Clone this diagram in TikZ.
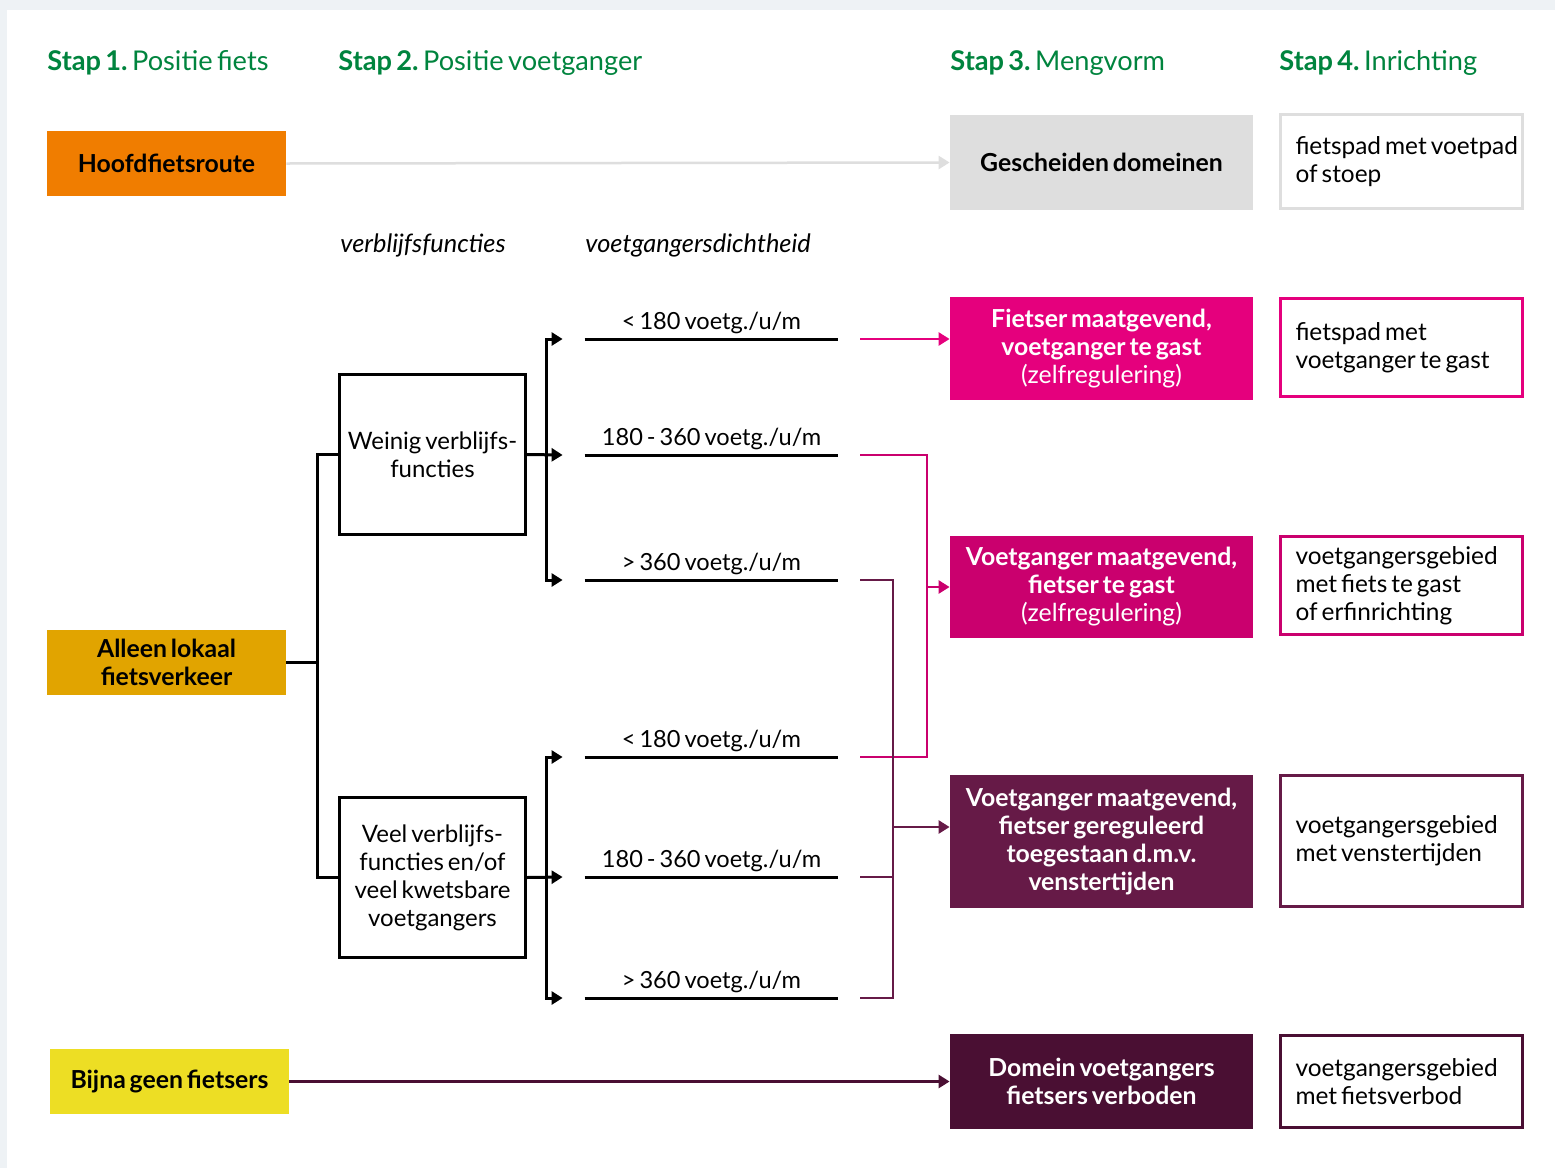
\documentclass[tikz,border=0pt]{standalone}
\usepackage{fontspec}
\setmainfont{Lato}[WordSpace=0.65]
\usetikzlibrary{arrows.meta}
\usetikzlibrary{positioning}
\frenchspacing
\definecolor{achtergrond}{RGB}{238,242,245}
\definecolor{stapgroen}{RGB}{0,132,62}
\definecolor{hfroranje}{RGB}{240,125,0}
\definecolor{lokaalgoud}{RGB}{225,164,0}
\definecolor{bijnageel}{RGB}{237,222,36}
\definecolor{lichtgrijs}{RGB}{222,222,222}
\definecolor{roze}{RGB}{229,0,125}
\definecolor{magenta}{RGB}{202,0,110}
\definecolor{paars}{RGB}{102,26,71}
\definecolor{donkerpaars}{RGB}{74,15,51}
\tikzset{
  kop/.style={anchor=base west,inner sep=0pt,text=stapgroen,font=\fontsize{13.6}{16}\selectfont},
  fietsbox/.style={minimum width=119.5pt,minimum height=32.5pt,inner sep=0pt,align=center,font=\fontsize{12.4}{14}\selectfont\bfseries},
  mengbox/.style={minimum width=151.5pt,inner sep=0pt,align=center,text=white,font=\fontsize{12.4}{14}\selectfont},
  inrichtbox/.style={draw,line width=1.4pt,minimum width=121pt,text width=106pt,inner sep=0pt,align=flush left,font=\fontsize{12.2}{14}\selectfont},
  keuzebox/.style={draw,line width=1.4pt,minimum width=93pt,minimum height=80pt,inner sep=0pt,align=center,font=\fontsize{12}{14}\selectfont},
  dicht/.style={anchor=south,minimum width=126.5pt,inner xsep=0pt,inner ysep=0pt,text depth=4.5pt,font=\fontsize{11.8}{14}\selectfont},
  kolomkop/.style={anchor=base west,inner sep=0pt,font=\fontsize{12.7}{14}\selectfont\itshape},
  lijn/.style={line width=1.5pt},
  kleurlijn/.style={line width=1.25pt},
  pijl/.style={-{Triangle[length=5.5pt,width=6.5pt]}},
  dubbelpijl/.style={{Triangle[length=5.5pt,width=6.5pt]}-{Triangle[length=5.5pt,width=6.5pt]}}
}
\begin{document}
\begin{tikzpicture}[line cap=butt,line join=miter,x=0.5pt,y=-0.5pt]
\fill[achtergrond] (0,0) rectangle (1555,1168);
\fill[white] (7,10) rectangle (1555,1168);
\useasboundingbox (0,0) rectangle (1555,1168);
\node[kop] (stap1) at (47,70) {\textbf{Stap 1.} Positie fiets};
\node[kop] (stap2) at (338,70) {\textbf{Stap 2.} Positie voetganger};
\node[kop] (stap3) at (950,70) {\textbf{Stap 3.} Mengvorm};
\node[kop] (stap4) at (1279,70) {\textbf{Stap 4.} Inrichting};
\node[fietsbox,fill=hfroranje] (hfr) at (166.5,163.5) {Hoofdfietsroute};
\node[fietsbox,fill=lokaalgoud] (lokaal) at (166.5,662.5) {Alleen lokaal\\fietsverkeer};
\node[fietsbox,fill=bijnageel] (bijna) at (169.5,1081.5) {Bijna geen fietsers};
\node[kolomkop] (verblijf) at (340,252) {verblijfsfuncties};
\node[kolomkop] (dichtheid) at (585,252) {voetgangersdichtheid};
\node[keuzebox] (weinig) at (432.5,454.5) {Weinig verblijfs-\\functies};
\node[keuzebox] (veel) at (432.5,877.5) {Veel verblijfs-\\functies en/of\\veel kwetsbare\\voetgangers};
\node[dicht] (d1) at (711.5,339) {<\,180 voetg./u/m};
\node[dicht] (d2) at (711.5,455) {180 - 360 voetg./u/m};
\node[dicht] (d3) at (711.5,580) {>\,360 voetg./u/m};
\node[dicht] (d4) at (711.5,757) {<\,180 voetg./u/m};
\node[dicht] (d5) at (711.5,877) {180 - 360 voetg./u/m};
\node[dicht] (d6) at (711.5,998) {>\,360 voetg./u/m};
\foreach \d in {d1,d2,d3,d4,d5,d6}
\draw[lijn] (\d.south west) -- (\d.south east);
\node[mengbox,fill=lichtgrijs,text=black,minimum height=47.5pt] (gescheiden) at (1101.5,162.5) {\textbf{Gescheiden domeinen}};
\node[mengbox,fill=roze,minimum height=51.5pt] (fietser) at (1101.5,348.5) {\textbf{Fietser maatgevend,}\\\textbf{voetganger te gast}\\(zelfregulering)};
\node[mengbox,fill=magenta,minimum height=51pt] (tegast) at (1101.5,587) {\textbf{Voetganger maatgevend,}\\\textbf{fietser te gast}\\(zelfregulering)};
\node[mengbox,fill=paars,minimum height=66.5pt,font=\fontsize{12.4}{14}\selectfont\bfseries] (venster) at (1101.5,841.5) {Voetganger maatgevend,\\fietser gereguleerd\\toegestaan d.m.v.\\venstertijden};
\node[mengbox,fill=donkerpaars,minimum height=47.5pt,font=\fontsize{12.4}{14}\selectfont\bfseries] (domein) at (1101.5,1081.5) {Domein voetgangers\\fietsers verboden};
\node[inrichtbox,draw=lichtgrijs,minimum height=47pt] (inr1) at (1401.5,161.5) {\mbox{fietspad met voetpad}\\of stoep};
\node[inrichtbox,draw=roze,minimum height=49pt] (inr2) at (1401.5,347.5) {fietspad met\\voetganger te gast};
\node[inrichtbox,draw=magenta,minimum height=49pt] (inr3) at (1401.5,585.5) {voetgangersgebied\\met fiets te gast\\of erfinrichting};
\node[inrichtbox,draw=paars,minimum height=65.5pt] (inr4) at (1401.5,841) {voetgangersgebied\\met venstertijden};
\node[inrichtbox,draw=donkerpaars,minimum height=46pt] (inr5) at (1401.5,1081.5) {voetgangersgebied\\met fietsverbod};
\coordinate (splits0) at (317,662.5);
\coordinate (splits1) at (546,455);
\coordinate (splits2) at (546,877);
\coordinate (knik2) at (927,587);
\coordinate (knik3) at (893,827);
\draw[lichtgrijs,kleurlijn,pijl] (hfr.east) -- (gescheiden.west);
\draw[lijn] (lokaal.east) -- (splits0);
\draw[lijn] (weinig.west) -| (splits0) |- (veel.west);
\draw[lijn,pijl] (weinig.east) -- ([xshift=-11pt]d2.south west);
\draw[lijn,pijl] (veel.east) -- ([xshift=-11pt]d5.south west);
\draw[lijn,dubbelpijl] ([xshift=-11pt]d1.south west) -| (splits1) |- ([xshift=-11pt]d3.south west);
\draw[lijn,dubbelpijl] ([xshift=-11pt]d4.south west) -| (splits2) |- ([xshift=-11pt]d6.south west);
\draw[roze,kleurlijn,pijl] ([xshift=11pt]d1.south east) -- (fietser.west |- d1.south);
\draw[magenta,kleurlijn] ([xshift=11pt]d2.south east) -| (knik2) |- ([xshift=11pt]d4.south east);
\draw[magenta,kleurlijn,pijl] (knik2) -- (tegast.west);
\draw[paars,kleurlijn] ([xshift=11pt]d3.south east) -| (knik3) |- ([xshift=11pt]d6.south east);
\draw[paars,kleurlijn] ([xshift=11pt]d5.south east) -- (d5.south east -| knik3);
\draw[paars,kleurlijn,pijl] (knik3) -- (venster.west |- knik3);
\draw[donkerpaars,kleurlijn,pijl] (bijna.east) -- (domein.west);
\end{tikzpicture}
\end{document}
